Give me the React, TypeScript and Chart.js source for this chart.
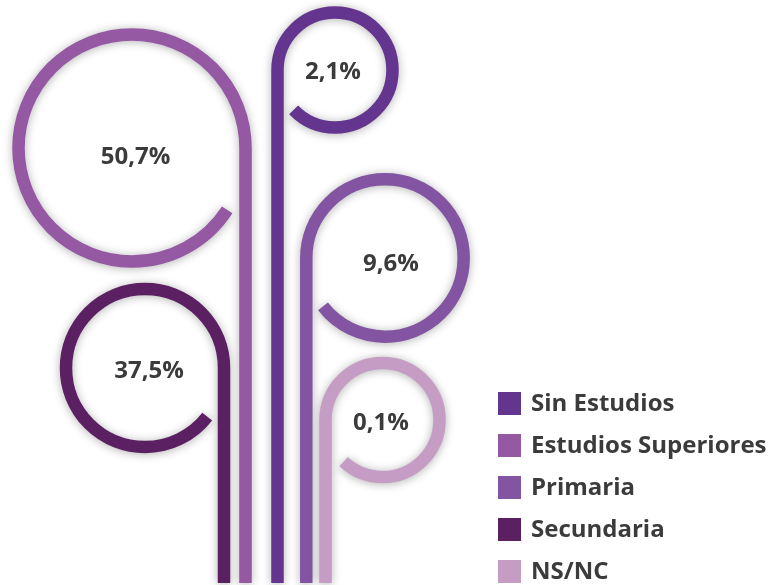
import React, { useEffect, useRef } from 'react';
import { Chart, registerables } from 'chart.js';

Chart.register(...registerables);

// ---- data ----
const categories = ['Sin Estudios', 'Estudios Superiores', 'Primaria', 'Secundaria', 'NS/NC'];
const values = [2.1, 50.7, 9.6, 37.5, 0.1];
const colors = ['#63358f', '#9558a3', '#8354a2', '#5b2062', '#c59dc4'];

// ---- layout (chart units, decorative placement of each curl) ----
const curls = [
  { cx: 335, cy: 70, r: 57.5, side: 'left', endDeg: 136, lx: 333, ly: 79 },
  { cx: 132, cy: 148, r: 113.5, side: 'right', endDeg: 33, lx: 135.5, ly: 163.5 },
  { cx: 385, cy: 258, r: 78.7, side: 'left', endDeg: 142, lx: 391, ly: 270.5 },
  { cx: 145, cy: 368, r: 79, side: 'right', endDeg: 38, lx: 149, ly: 378 },
  { cx: 382.5, cy: 420, r: 57, side: 'left', endDeg: 133, lx: 381, ly: 430 },
];
const STEM_BOTTOM = 583;
const LEGEND = { x: 498, y: 392, box: 23, gap: 42, textX: 531, textDy: 19 };

const fmt = (v: number) => v.toFixed(1).replace('.', ',') + '%';

const curlPlugin = {
  id: 'curls',
  afterDatasetsDraw(chart: any) {
    const { ctx, scales } = chart;
    const xs = scales.x;
    const ys = scales.y;
    const px = (v: number) => xs.getPixelForValue(v);
    const py = (v: number) => ys.getPixelForValue(v);
    chart.data.datasets.forEach((ds: any, i: number) => {
      const c = curls[i];
      const cx = px(c.cx);
      const cy = py(c.cy);
      const r = px(c.cx + c.r) - px(c.cx);
      const stemX = c.side === 'right' ? cx + r : cx - r;
      ctx.save();
      ctx.shadowColor = 'rgba(0,0,0,0.3)';
      ctx.shadowBlur = 10;
      ctx.shadowOffsetX = 0;
      ctx.shadowOffsetY = 1;
      ctx.strokeStyle = ds.borderColor;
      ctx.lineWidth = 12.5;
      ctx.lineCap = 'butt';
      ctx.lineJoin = 'round';
      ctx.beginPath();
      ctx.moveTo(stemX, py(STEM_BOTTOM));
      ctx.lineTo(stemX, cy);
      const end = (c.endDeg * Math.PI) / 180;
      if (c.side === 'right') ctx.arc(cx, cy, r, 0, end, true);
      else ctx.arc(cx, cy, r, Math.PI, end, false);
      ctx.stroke();
      ctx.restore();

      ctx.save();
      ctx.fillStyle = '#3b3b3b';
      ctx.font = 'bold 24px "Open Sans"';
      ctx.textAlign = 'center';
      ctx.textBaseline = 'alphabetic';
      ctx.fillText(fmt(ds.value), px(c.lx), py(c.ly));
      ctx.restore();
    });

    // legend
    ctx.save();
    chart.data.datasets.forEach((ds: any, i: number) => {
      const top = LEGEND.y + i * LEGEND.gap;
      ctx.fillStyle = ds.backgroundColor;
      ctx.fillRect(LEGEND.x, top, LEGEND.box, LEGEND.box);
      ctx.fillStyle = '#3b3b3b';
      ctx.font = 'bold 24px "Open Sans"';
      ctx.textAlign = 'left';
      ctx.textBaseline = 'alphabetic';
      ctx.fillText(ds.label, LEGEND.textX, top + LEGEND.textDy);
    });
    ctx.restore();
  },
};

export default function App() {
  const ref = useRef<HTMLCanvasElement | null>(null);
  useEffect(() => {
    document.body.style.margin = '0';
    if (!ref.current) return;
    const chart = new Chart(ref.current, {
      type: 'scatter',
      data: {
        datasets: categories.map((label, i) => ({
          label,
          value: values[i],
          data: [],
          backgroundColor: colors[i],
          borderColor: colors[i],
        })) as any,
      },
      options: {
        animation: false,
        responsive: false,
        devicePixelRatio: 1,
        layout: { padding: 0 },
        scales: {
          x: { type: 'linear', min: 0, max: 774, display: false },
          y: { type: 'linear', min: 0, max: 585, reverse: true, display: false },
        },
        plugins: { legend: { display: false }, tooltip: { enabled: false } },
      },
      plugins: [curlPlugin],
    });
    return () => chart.destroy();
  }, []);
  return (
    <div style={{ width: 774, height: 585, background: '#fff' }}>
      <canvas ref={ref} width={774} height={585} />
    </div>
  );
}
